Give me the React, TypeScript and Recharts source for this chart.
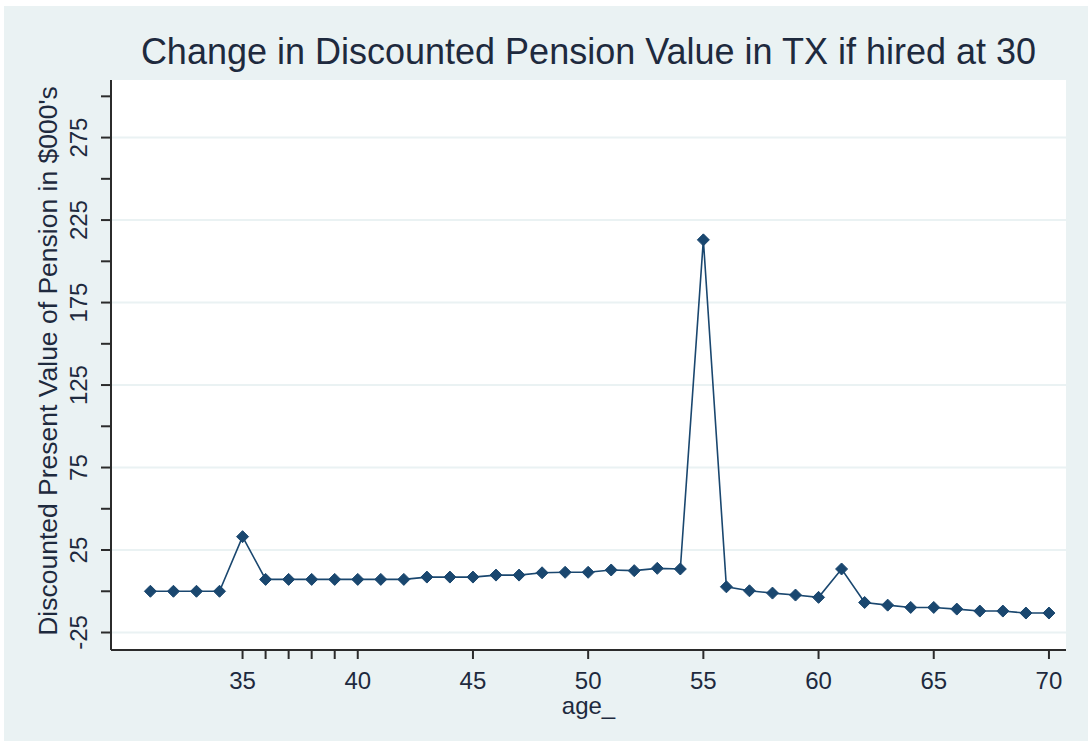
import React from "react";
import {
  LineChart,
  Line,
  XAxis,
  YAxis,
  CartesianGrid,
  Customized,
} from "recharts";

const ages = [
  31, 32, 33, 34, 35, 36, 37, 38, 39, 40, 41, 42, 43, 44, 45, 46, 47, 48, 49, 50,
  51, 52, 53, 54, 55, 56, 57, 58, 59, 60, 61, 62, 63, 64, 65, 66, 67, 68, 69, 70,
];

// change in discounted present value of pension, $000's
const pensionChange = [
  0, 0, 0, 0, 33.1, 7.2, 7.2, 7.2, 7.2, 7.2, 7.2, 7.2, 8.6, 8.6, 8.6, 9.8, 9.8,
  11.2, 11.5, 11.5, 12.9, 12.5, 13.9, 13.5, 213, 2.7, 0.3, -1.1, -2.3, -3.7, 13.5,
  -6.8, -8.4, -9.8, -9.8, -10.8, -12, -12, -13.2, -13.2,
];

const xTicks = [35, 36, 37, 38, 39, 40, 45, 50, 55, 60, 65, 70];
const yTicks = [-25, 0, 25, 50, 75, 100, 125, 150, 175, 200, 225, 250, 275, 300];
const yLabelTicks = [-25, 25, 75, 125, 175, 225, 275];

const title = "Change in Discounted Pension Value in TX if hired at 30";
const xTitle = "age_";
const yTitle = "Discounted Present Value of Pension in $000's";

const data = ages.map((age, i) => ({ age, value: pensionChange[i] }));

const FONT = "'Liberation Sans', Arial, sans-serif";
const NAVY = "#1a476f";
const TEXT = "#1e2a3e";
const BG = "#eaf2f3";

const XTick = (props: any) => {
  const { x, payload } = props;
  const v = payload.value;
  if (v % 5 !== 0) return <g />;
  return (
    <text x={x} y={689} textAnchor="middle" fontSize={24} fontFamily={FONT} fill={TEXT}>
      {v}
    </text>
  );
};

const YTick = (props: any) => {
  const { y, payload } = props;
  if (!yLabelTicks.includes(payload.value)) return <g />;
  const tx = 87;
  return (
    <text
      x={tx}
      y={y}
      transform={`rotate(-90 ${tx} ${y})`}
      textAnchor="middle"
      fontSize={24}
      fontFamily={FONT}
      fill={TEXT}
    >
      {payload.value}
    </text>
  );
};

const Diamond = (props: any) => {
  const { cx, cy, index } = props;
  if (cx == null || cy == null) return <g key={`d-${index}`} />;
  const r = 6;
  return (
    <polygon
      key={`d-${index}`}
      points={`${cx},${cy - r} ${cx + r},${cy} ${cx},${cy + r} ${cx - r},${cy}`}
      fill={NAVY}
      stroke={NAVY}
      strokeWidth={1}
    />
  );
};

export default function App() {
  return (
    <div style={{ position: "absolute", left: 0, top: 0, width: 1088, height: 744, background: "#fff" }}>
      <div style={{ position: "absolute", left: 4, top: 6, width: 1084, height: 735, background: BG }} />
      <div style={{ position: "absolute", left: 0, top: 0 }}>
        <LineChart
          width={1088}
          height={744}
          data={data}
          margin={{ top: 80, right: 22, bottom: 34, left: 51 }}
        >
          <CartesianGrid
            vertical={false}
            horizontalValues={yLabelTicks}
            stroke={BG}
            strokeWidth={2}
            fill="#ffffff"
            fillOpacity={1}
          />
          <XAxis
            dataKey="age"
            type="number"
            domain={[29.29, 70.74]}
            allowDataOverflow
            ticks={xTicks}
            interval={0}
            height={60}
            tickSize={9}
            tick={<XTick />}
            axisLine={{ stroke: "#2b2b2b", strokeWidth: 2 }}
            tickLine={{ stroke: "#2b2b2b", strokeWidth: 2 }}
            label={{
              content: (p: any) => {
                const vb = p.viewBox;
                return (
                  <text
                    x={vb.x + vb.width / 2}
                    y={714}
                    textAnchor="middle"
                    fontSize={24}
                    fontFamily={FONT}
                    fill={TEXT}
                  >
                    {xTitle}
                  </text>
                );
              },
            }}
          />
          <YAxis
            type="number"
            domain={[-35.6, 309.9]}
            allowDataOverflow
            ticks={yTicks}
            interval={0}
            width={60}
            tickSize={10}
            tick={<YTick />}
            axisLine={{ stroke: "#2b2b2b", strokeWidth: 2 }}
            tickLine={{ stroke: "#2b2b2b", strokeWidth: 2 }}
            label={{
              content: (p: any) => {
                const vb = p.viewBox;
                const cy = vb.y + vb.height / 2 - 4;
                const tx = 57;
                return (
                  <text
                    x={tx}
                    y={cy}
                    transform={`rotate(-90 ${tx} ${cy})`}
                    textAnchor="middle"
                    fontSize={26.5}
                    fontFamily={FONT}
                    fill={TEXT}
                  >
                    {yTitle}
                  </text>
                );
              },
            }}
          />
          <Line
            type="linear"
            dataKey="value"
            stroke={NAVY}
            strokeWidth={1.6}
            dot={Diamond}
            activeDot={false}
            isAnimationActive={false}
          />
          <Customized
            component={() => (
              <text
                x={588.5}
                y={64}
                textAnchor="middle"
                fontSize={36}
                fontFamily={FONT}
                fill={TEXT}
              >
                {title}
              </text>
            )}
          />
        </LineChart>
      </div>
    </div>
  );
}
